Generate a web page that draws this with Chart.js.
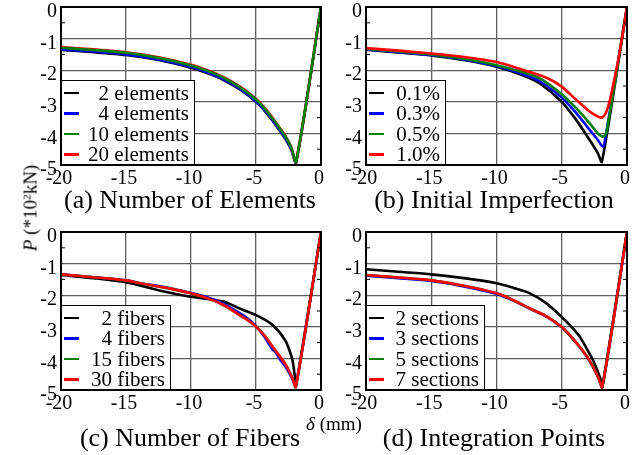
<!DOCTYPE html>
<html>
<head>
<meta charset="utf-8">
<script src="https://cdn.jsdelivr.net/npm/chart.js@4.4.1/dist/chart.umd.min.js"></script>
<style>
  body { margin: 0; background: #fff; }
  #wrap { position: relative; width: 640px; height: 455px; overflow: hidden;
          font-family: 'Liberation Serif', 'Times New Roman', serif; color: #000; }
  canvas { position: absolute; }
  .title { position: absolute; font-size: 26px; line-height: 26px; white-space: nowrap;
           transform: translateX(-50%); }
  .legend { position: absolute; box-sizing: border-box; border: 1.5px solid #000;
            background: #fff; padding: 1.5px 5px 0 2px; }
  .row { display: flex; align-items: center; height: 20.5px; }
  .swatch { width: 15px; height: 2.5px; }
  .txt { flex: 1; text-align: right; font-size: 21px; line-height: 20.5px; white-space: nowrap; }
  .axt { position: absolute; font-size: 19px; line-height: 19px; white-space: nowrap; }
  sup { font-size: 0.6em; line-height: 0; vertical-align: 0.5em; }
</style>
</head>
<body>
<div id="wrap"></div>
<script>
// axis ticks
const xTickValues = [-20, -15, -10, -5, 0];
const yTickValues = [-5, -4, -3, -2, -1, 0];
const yMinorTicks = [-4.5, -3.5, -2.5, -1.5, -0.5];

const seriesColors = ['#000000', '#0000ff', '#008000', '#ff0000'];

// (a) number of elements
const elemLabels = ['2 elements', '4 elements', '10 elements', '20 elements'];
const elemX = [0, -1.92, -2.3, -2.7, -3.2, -3.72, -4.3, -5, -6.2, -7.5, -8.7, -10, -12.5, -15, -17.5, -20];
const elem2 = [0, -4.93, -4.5, -4.2, -3.9, -3.6, -3.3, -3.0, -2.62, -2.31, -2.1, -1.92, -1.68, -1.52, -1.43, -1.36];
const elem4 = [0, -4.92, -4.48, -4.18, -3.88, -3.58, -3.28, -2.98, -2.6, -2.29, -2.08, -1.9, -1.66, -1.5, -1.41, -1.34];
const elem10 = [0, -4.9, -4.43, -4.13, -3.83, -3.53, -3.23, -2.93, -2.55, -2.24, -2.03, -1.85, -1.61, -1.45, -1.36, -1.29];
const elem20 = [0, -4.9, -4.42, -4.11, -3.81, -3.51, -3.21, -2.91, -2.53, -2.22, -2.01, -1.83, -1.59, -1.43, -1.34, -1.27];

// (b) initial imperfection
const impLabels = ['0.1%', '0.3%', '0.5%', '1.0%'];
const imp01X = [0, -1.92, -2.23, -2.86, -3.88, -5, -6.68, -8, -10, -12.5, -15, -17.5, -20];
const imp01 = [0, -4.9, -4.63, -4.21, -3.58, -3.0, -2.42, -2.16, -1.89, -1.68, -1.53, -1.44, -1.35];
const imp03X = [0, -1.72, -1.85, -2.0, -2.23, -2.86, -3.88, -5, -6.68, -8, -10, -12.5, -15, -17.5, -20];
const imp03 = [0, -4.3, -4.42, -4.36, -4.21, -3.89, -3.36, -2.87, -2.35, -2.12, -1.87, -1.66, -1.52, -1.43, -1.34];
const imp05X = [0, -1.6, -1.85, -2.0, -2.23, -2.86, -3.88, -5, -6.68, -8, -10, -12.5, -15, -17.5, -20];
const imp05 = [0, -4.02, -4.1, -4.08, -4.0, -3.68, -3.21, -2.76, -2.26, -2.06, -1.84, -1.64, -1.5, -1.41, -1.33];
const imp10X = [0, -0.57, -0.9, -1.34, -1.59, -1.8, -1.97, -2.23, -2.86, -3.88, -5, -6, -7.5, -10, -12.5, -15, -17.5, -20];
const imp10 = [0, -1.45, -2.15, -3.0, -3.32, -3.46, -3.5, -3.47, -3.31, -2.94, -2.52, -2.27, -2.05, -1.74, -1.58, -1.47, -1.38, -1.3];

// (c) number of fibers
const fibLabels = ['2 fibers', '4 fibers', '15 fibers', '30 fibers'];
const fib2X = [0, -1.94, -2.0, -2.2, -2.45, -2.7, -3.2, -3.72, -4.3, -5, -6.26, -7.5, -8.7, -10, -12.5, -15, -17.5, -20];
const fib2 = [0, -4.9, -4.6, -4.05, -3.72, -3.47, -3.17, -2.94, -2.78, -2.63, -2.42, -2.2, -2.12, -2.05, -1.84, -1.59, -1.46, -1.36];
const fib4X = [0, -1.94, -2.2, -2.7, -3.2, -3.5, -3.72, -4.0, -4.3, -5, -5.6, -6.26, -7.5, -8.7, -10, -12, -13.9, -15, -17.5, -20];
const fib4 = [0, -4.9, -4.65, -4.28, -4.0, -3.8, -3.72, -3.55, -3.35, -2.98, -2.75, -2.57, -2.27, -2.07, -1.93, -1.75, -1.62, -1.53, -1.43, -1.34];
const fib15X = [0, -1.94, -2.2, -2.7, -3.2, -3.72, -4.3, -5, -5.6, -6.26, -7.5, -8.7, -10, -12, -13.9, -15, -17.5, -20];
const fib15 = [0, -4.9, -4.62, -4.21, -3.92, -3.63, -3.3, -3.0, -2.8, -2.63, -2.31, -2.1, -1.94, -1.76, -1.62, -1.53, -1.43, -1.34];
const fib30X = [0, -1.94, -2.2, -2.7, -3.2, -3.72, -4.3, -5, -5.6, -6.26, -7.5, -8.7, -10, -12, -13.9, -15, -17.5, -20];
const fib30 = [0, -4.9, -4.62, -4.21, -3.92, -3.63, -3.3, -3.0, -2.8, -2.63, -2.31, -2.1, -1.94, -1.76, -1.62, -1.53, -1.43, -1.34];

// (d) integration points
const secLabels = ['2 sections', '3 sections', '5 sections', '7 sections'];
const sec2X = [0, -1.89, -2.0, -2.3, -2.61, -3.1, -3.63, -4.3, -5.02, -6.2, -7.44, -8.7, -9.98, -12.5, -15, -17.5, -20];
const sec2 = [0, -4.9, -4.7, -4.35, -4.05, -3.68, -3.31, -2.98, -2.68, -2.25, -1.94, -1.77, -1.62, -1.46, -1.34, -1.26, -1.18];
const sec3X = [0, -1.89, -2.2, -2.61, -3.1, -3.63, -4.3, -5.02, -6.2, -7.44, -8.7, -9.98, -12.5, -15, -17.5, -20];
const sec3 = [0, -4.9, -4.61, -4.27, -3.93, -3.64, -3.31, -3.01, -2.67, -2.43, -2.17, -1.96, -1.72, -1.55, -1.46, -1.38];
const sec5X = [0, -1.89, -2.2, -2.61, -3.1, -3.63, -4.3, -5.02, -6.2, -7.44, -8.7, -9.98, -12.5, -15, -17.5, -20];
const sec5 = [0, -4.9, -4.6, -4.26, -3.92, -3.63, -3.3, -3.0, -2.66, -2.42, -2.16, -1.94, -1.7, -1.53, -1.44, -1.36];
const sec7X = [0, -1.89, -2.2, -2.61, -3.1, -3.63, -4.3, -5.02, -6.2, -7.44, -8.7, -9.98, -12.5, -15, -17.5, -20];
const sec7 = [0, -4.9, -4.6, -4.26, -3.92, -3.63, -3.3, -3.0, -2.66, -2.42, -2.16, -1.94, -1.7, -1.53, -1.44, -1.36];

const serif = 'Liberation Serif';
Chart.defaults.font.family = serif;
Chart.defaults.color = '#000';

const wrap = document.getElementById('wrap');

// black frame plus small inside ticks on both y sides
const framePlugin = {
  id: 'frame',
  afterDatasetsDraw(chart) {
    const { ctx, chartArea: a } = chart;
    const y = chart.scales.y;
    ctx.save();
    ctx.strokeStyle = '#000';
    ctx.lineWidth = 1;
    yMinorTicks.forEach(v => {
      const py = y.getPixelForValue(v);
      ctx.beginPath();
      ctx.moveTo(a.left, py); ctx.lineTo(a.left + 4, py);
      ctx.moveTo(a.right, py); ctx.lineTo(a.right - 4, py);
      ctx.stroke();
    });
    ctx.lineWidth = 2;
    ctx.strokeRect(a.left, a.top, a.right - a.left, a.bottom - a.top);
    ctx.restore();
  }
};

function toPoints(xs, ys) {
  return xs.map((x, i) => ({ x: x, y: ys[i] }));
}

function makePanel(left, top, padRight, series, labels, orders, title, legendBox) {
  const canvas = document.createElement('canvas');
  canvas.width = 330;
  canvas.height = 195;
  canvas.style.left = left + 'px';
  canvas.style.top = top + 'px';
  wrap.appendChild(canvas);

  const datasets = series.map((s, i) => ({
    label: labels[i],
    data: toPoints(s[0], s[1]),
    borderColor: seriesColors[i],
    borderWidth: 2.6,
    pointRadius: 0,
    showLine: true,
    tension: 0.25,
    order: orders[i]
  }));

  new Chart(canvas, {
    type: 'scatter',
    data: { datasets: datasets },
    options: {
      responsive: false,
      animation: false,
      layout: { padding: { left: 0, top: 7, right: padRight, bottom: 0 } },
      plugins: { legend: { display: false }, tooltip: { enabled: false } },
      scales: {
        x: {
          type: 'linear', min: -20, max: 0,
          afterBuildTicks: s => { s.ticks = xTickValues.map(v => ({ value: v })); },
          afterFit: s => { s.height = 30; s.paddingLeft = 0; s.paddingRight = 0; },
          grid: { color: '#5e5e5e', lineWidth: 1.3, drawTicks: false },
          border: { display: false },
          ticks: { font: { family: serif, size: 20 }, color: '#000', padding: 2, labelOffset: -2, maxRotation: 0, autoSkip: false }
        },
        y: {
          type: 'linear', min: -5, max: 0,
          afterBuildTicks: s => { s.ticks = yTickValues.map(v => ({ value: v })); },
          afterFit: s => { s.width = 61; s.paddingTop = 0; s.paddingBottom = 0; },
          grid: { color: '#5e5e5e', lineWidth: 1.3, drawTicks: false },
          border: { display: false },
          ticks: { font: { family: serif, size: 20 }, color: '#000', padding: 4, labelOffset: 5, autoSkip: false }
        }
      }
    },
    plugins: [framePlugin]
  });

  // legend box inside the plot, bottom left
  const lg = document.createElement('div');
  lg.className = 'legend';
  lg.style.left = legendBox[0] + 'px';
  lg.style.top = legendBox[1] + 'px';
  lg.style.width = legendBox[2] + 'px';
  lg.style.height = legendBox[3] + 'px';
  labels.forEach((lab, i) => {
    const row = document.createElement('div');
    row.className = 'row';
    const sw = document.createElement('span');
    sw.className = 'swatch';
    sw.style.background = seriesColors[i];
    const tx = document.createElement('span');
    tx.className = 'txt';
    tx.textContent = lab;
    row.appendChild(sw);
    row.appendChild(tx);
    lg.appendChild(row);
  });
  wrap.appendChild(lg);

  const t = document.createElement('div');
  t.className = 'title';
  t.textContent = title[0];
  t.style.left = title[1] + 'px';
  t.style.top = (title[2] - 13) + 'px';
  wrap.appendChild(t);
}

makePanel(0, 0, 9,
  [[elemX, elem2], [elemX, elem4], [elemX, elem10], [elemX, elem20]],
  elemLabels, [3, 2, 0, 1],
  ['(a) Number of Elements', 190, 200], [61, 80, 134, 85]);

makePanel(305, 0, 8,
  [[imp01X, imp01], [imp03X, imp03], [imp05X, imp05], [imp10X, imp10]],
  impLabels, [3, 2, 1, 0],
  ['(b) Initial Imperfection', 494, 200], [366, 80, 80, 85]);

makePanel(0, 225, 9,
  [[fib2X, fib2], [fib4X, fib4], [fib15X, fib15], [fib30X, fib30]],
  fibLabels, [3, 2, 1, 0],
  ['(c) Number of Fibers', 190, 438], [61, 305, 110, 85]);

makePanel(305, 225, 8,
  [[sec2X, sec2], [sec3X, sec3], [sec5X, sec5], [sec7X, sec7]],
  secLabels, [3, 2, 1, 0],
  ['(d) Integration Points', 494, 438], [366, 305, 119, 85]);

// shared axis titles
const yt = document.createElement('div');
yt.className = 'axt';
yt.innerHTML = '<i>P</i> (*10<sup>2</sup>kN)';
yt.style.left = '30px';
yt.style.top = '208px';
yt.style.transform = 'translate(-50%, -50%) rotate(-90deg)';
wrap.appendChild(yt);

const xt = document.createElement('div');
xt.className = 'axt';
xt.innerHTML = '<i>\u03b4</i> (mm)';
xt.style.left = '334px';
xt.style.top = '423px';
xt.style.transform = 'translate(-50%, -50%)';
wrap.appendChild(xt);
</script>
</body>
</html>
